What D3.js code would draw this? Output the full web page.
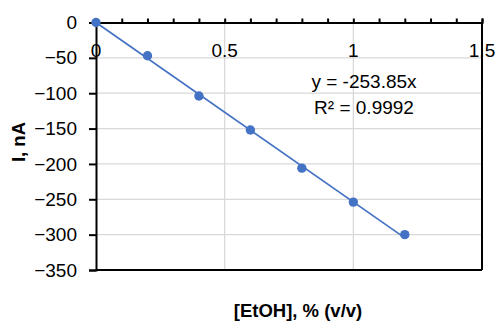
<!DOCTYPE html>
<html><head><meta charset="utf-8">
<script src="https://cdn.jsdelivr.net/npm/d3@7"></script>
<style>body{margin:0;background:#fff}svg text{font-family:"Liberation Sans",Arial,sans-serif}</style>
</head><body><svg id="c" width="495" height="321"></svg>
<script>
const xValues = [0, 0.2, 0.4, 0.6, 0.8, 1.0, 1.2];
const yValues = [0, -47, -104, -152, -206, -254, -300];
const xTicks = [0, 0.5, 1, 1.5];
const xMinorTicks = [0,0.1,0.2,0.3,0.4,0.5,0.6,0.7,0.8,0.9,1.0,1.1,1.2,1.3,1.4,1.5];
const yTicks = [0, -50, -100, -150, -200, -250, -300, -350];
const slope = -253.85;
const eqText = "y = -253.85x";
const r2Text = "R² = 0.9992";
const xTitle = "[EtOH], % (v/v)";
const yTitle = "I, nA";

const svg = d3.select("#c");
const L = 96, R = 482, T = 22.5, B = 270;
const x = d3.scaleLinear().domain([0, 1.5]).range([L, R]);
const y = d3.scaleLinear().domain([-350, 0]).range([B, T]);
const color = "#4472C4";
const FS = 19;

// gridlines
svg.append("g").selectAll("line.h").data(yTicks.filter(d => d !== 0 && d !== -350)).join("line")
  .attr("x1", L).attr("x2", R).attr("y1", d => y(d)).attr("y2", d => y(d))
  .attr("stroke", "#d9d9d9").attr("stroke-width", 1.3);
svg.append("g").selectAll("line.v").data(xTicks.filter(d => d !== 0 && d !== 1.5)).join("line")
  .attr("x1", d => x(d)).attr("x2", d => x(d)).attr("y1", T).attr("y2", B)
  .attr("stroke", "#d9d9d9").attr("stroke-width", 1.3);

// border right & bottom
svg.append("line").attr("x1", R).attr("x2", R).attr("y1", T).attr("y2", B).attr("stroke", "#000").attr("stroke-width", 2);
svg.append("line").attr("x1", L).attr("x2", R).attr("y1", B).attr("y2", B).attr("stroke", "#000").attr("stroke-width", 2);

// y axis (left)
const yAxis = d3.axisLeft(y).tickValues(yTicks).tickSize(7).tickPadding(12).tickFormat(d3.format("d"));
const gy = svg.append("g").attr("transform", `translate(${L},0)`).call(yAxis);
gy.select(".domain").attr("stroke", "#000").attr("stroke-width", 2);
gy.selectAll(".tick line").attr("stroke", "#000").attr("stroke-width", 2);
gy.selectAll(".tick text").attr("font-size", FS).attr("fill", "#000").attr("font-family", "Liberation Sans, Arial, sans-serif");

// x axis at y=0 (top), minor ticks outward (upward)
const xAxis = d3.axisTop(x).tickValues(xMinorTicks).tickSize(4).tickFormat("");
const gx = svg.append("g").attr("transform", `translate(0,${y(0)})`).call(xAxis);
gx.select(".domain").attr("stroke", "#000").attr("stroke-width", 2);
gx.selectAll(".tick line").attr("stroke", "#000").attr("stroke-width", 2);
// x tick labels below the axis line
svg.append("g").selectAll("text").data(xTicks).join("text")
  .attr("x", d => x(d)).attr("y", y(0) + 34).attr("text-anchor", "middle")
  .attr("font-size", FS).attr("fill", "#000").text(d => d3.format("")(d));

// trendline
svg.append("line").attr("x1", x(0)).attr("y1", y(0)).attr("x2", x(1.2)).attr("y2", y(slope * 1.2))
  .attr("stroke", color).attr("stroke-width", 1.7);

// points
svg.append("g").selectAll("circle").data(xValues.map((v, i) => [v, yValues[i]])).join("circle")
  .attr("cx", d => x(d[0])).attr("cy", d => y(d[1])).attr("r", 4.7).attr("fill", color);

// equation
svg.append("text").attr("x", 364).attr("y", 88).attr("text-anchor", "middle").attr("font-size", FS).text(eqText);
svg.append("text").attr("x", 364).attr("y", 114).attr("text-anchor", "middle").attr("font-size", FS).text(r2Text);

// titles
svg.append("text").attr("x", 298).attr("y", 317).attr("text-anchor", "middle").attr("font-size", 18.5).attr("font-weight", "bold").text(xTitle);
svg.append("text").attr("transform", "translate(25,142) rotate(-90)").attr("text-anchor", "middle").attr("font-size", 18.5).attr("font-weight", "bold").text(yTitle);
</script></body></html>
